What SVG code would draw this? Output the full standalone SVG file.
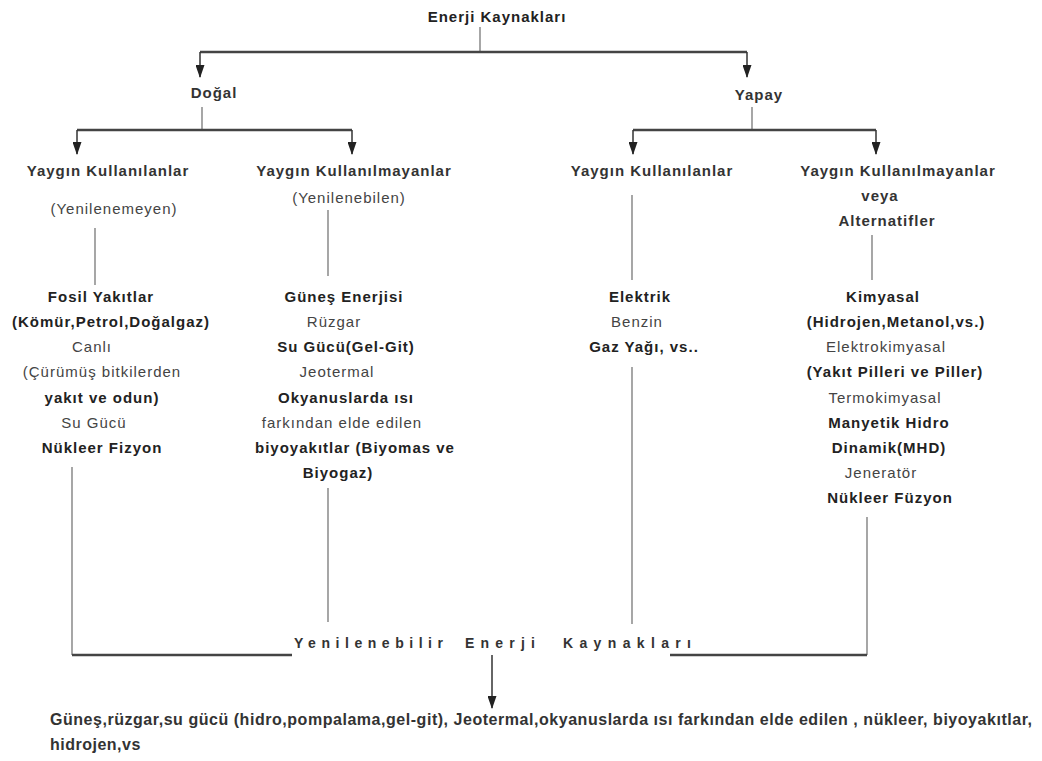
<svg xmlns="http://www.w3.org/2000/svg" width="1042" height="761" viewBox="0 0 1042 761">
<style>
text{font-family:"Liberation Sans",Arial,sans-serif;font-size:15px;letter-spacing:1px;text-anchor:middle}
.b{font-weight:bold;fill:#222}
.n{fill:#444}
.h{font-weight:bold;fill:#333}
.thick{stroke:#444;stroke-width:2.5;fill:none}
.thin{stroke:#777;stroke-width:1.3;fill:none}
.arr{stroke:#333;stroke-width:1.5;fill:none;marker-end:url(#ah)}
</style>
<defs>
<marker id="ah" markerUnits="userSpaceOnUse" markerWidth="13" markerHeight="9" refX="12" refY="4.5" orient="auto">
<path d="M0,0 L13,4.5 L0,9 z" fill="#222"/>
</marker>
</defs>
<rect width="1042" height="761" fill="#fff"/>
<g id="connectors">
<line class="thin" x1="480" y1="27" x2="480" y2="52"/>
<line class="thick" x1="200" y1="52" x2="747" y2="52"/>
<line class="arr" x1="200" y1="52" x2="200" y2="77"/>
<line class="arr" x1="747" y1="52" x2="747" y2="77"/>
<line class="thin" x1="202" y1="107" x2="202" y2="130"/>
<line class="thick" x1="77" y1="130" x2="352" y2="130"/>
<line class="arr" x1="77" y1="130" x2="77" y2="154"/>
<line class="arr" x1="352" y1="130" x2="352" y2="154"/>
<line class="thin" x1="752" y1="107" x2="752" y2="130"/>
<line class="thick" x1="633" y1="130" x2="876" y2="130"/>
<line class="arr" x1="633" y1="130" x2="633" y2="154"/>
<line class="arr" x1="876" y1="130" x2="876" y2="154"/>
<line class="thin" x1="95" y1="228" x2="95" y2="285"/>
<line class="thin" x1="328" y1="210" x2="328" y2="276"/>
<line class="thin" x1="632" y1="195" x2="632" y2="280"/>
<line class="thin" x1="872" y1="235" x2="872" y2="280"/>
<line class="thin" x1="72" y1="467" x2="72" y2="655"/>
<line class="thin" x1="328" y1="488" x2="328" y2="622"/>
<line class="thin" x1="632" y1="367" x2="632" y2="624"/>
<line class="thin" x1="867" y1="517" x2="867" y2="655"/>
<line class="thick" x1="72" y1="655" x2="292" y2="655"/>
<line class="thick" x1="670" y1="655" x2="867" y2="655"/>
<line class="arr" x1="492" y1="655" x2="492" y2="708"/>
</g>
<g id="root"><text class="b" x="497" y="22">Enerji Kaynakları</text></g>
<g id="dogal"><text class="h" x="214" y="98">Doğal</text></g>
<g id="yapay"><text class="h" x="759" y="100">Yapay</text></g>
<g id="dogal-yaygin">
<text class="h" x="108" y="176">Yaygın Kullanılanlar</text>
<text class="n" x="114" y="214">(Yenilenemeyen)</text>
</g>
<g id="dogal-yaygin-olmayan">
<text class="h" x="354" y="176">Yaygın Kullanılmayanlar</text>
<text class="n" x="349" y="203">(Yenilenebilen)</text>
</g>
<g id="yapay-yaygin">
<text class="h" x="652" y="176">Yaygın Kullanılanlar</text>
</g>
<g id="yapay-yaygin-olmayan">
<text class="h" x="898" y="176">Yaygın Kullanılmayanlar</text>
<text class="h" x="880" y="201">veya</text>
<text class="h" x="887" y="226">Alternatifler</text>
</g>
<g id="fosil">
<text class="b" x="101" y="302">Fosil Yakıtlar</text>
<text class="b" x="111" y="327">(Kömür,Petrol,Doğalgaz)</text>
<text class="n" x="92" y="352">Canlı</text>
<text class="n" x="102" y="377">(Çürümüş bitkilerden</text>
<text class="b" x="102" y="403">yakıt ve odun)</text>
<text class="n" x="94" y="428">Su Gücü</text>
<text class="b" x="102" y="453">Nükleer Fizyon</text>
</g>
<g id="yenilenebilen">
<text class="b" x="344" y="302">Güneş Enerjisi</text>
<text class="n" x="334" y="327">Rüzgar</text>
<text class="b" x="346" y="352">Su Gücü(Gel-Git)</text>
<text class="n" x="337" y="377">Jeotermal</text>
<text class="b" x="346" y="403">Okyanuslarda ısı</text>
<text class="n" x="342" y="428">farkından elde edilen</text>
<text class="b" x="355" y="453">biyoyakıtlar (Biyomas ve</text>
<text class="b" x="338" y="478">Biyogaz)</text>
</g>
<g id="yapay-liste">
<text class="b" x="640" y="302">Elektrik</text>
<text class="n" x="637" y="327">Benzin</text>
<text class="b" x="644" y="352">Gaz Yağı, vs..</text>
</g>
<g id="alternatif-liste">
<text class="b" x="883" y="302">Kimyasal</text>
<text class="b" x="896" y="327">(Hidrojen,Metanol,vs.)</text>
<text class="n" x="886" y="352">Elektrokimyasal</text>
<text class="b" x="895" y="377">(Yakıt Pilleri ve Piller)</text>
<text class="n" x="885" y="403">Termokimyasal</text>
<text class="b" x="889" y="428">Manyetik Hidro</text>
<text class="b" x="889" y="453">Dinamik(MHD)</text>
<text class="n" x="881" y="478">Jeneratör</text>
<text class="b" x="890" y="503">Nükleer Füzyon</text>
</g>
<g id="yenilenebilir">
<text class="h" style="font-size:14px;text-anchor:start;letter-spacing:0" y="648"><tspan x="294" textLength="149" lengthAdjust="spacing">Yenilenebilir</tspan><tspan x="465" textLength="70" lengthAdjust="spacing">Enerji</tspan><tspan x="563" textLength="128" lengthAdjust="spacing">Kaynakları</tspan></text>
</g>
<g id="ozet">
<text class="h" style="font-size:16px;text-anchor:start;letter-spacing:0" x="50" y="725" textLength="982" lengthAdjust="spacing">Güneş,rüzgar,su gücü (hidro,pompalama,gel-git), Jeotermal,okyanuslarda ısı farkından elde edilen , nükleer, biyoyakıtlar,</text>
<text class="h" style="font-size:16px;text-anchor:start;letter-spacing:0.5px" x="50" y="750">hidrojen,vs</text>
</g>
</svg>
